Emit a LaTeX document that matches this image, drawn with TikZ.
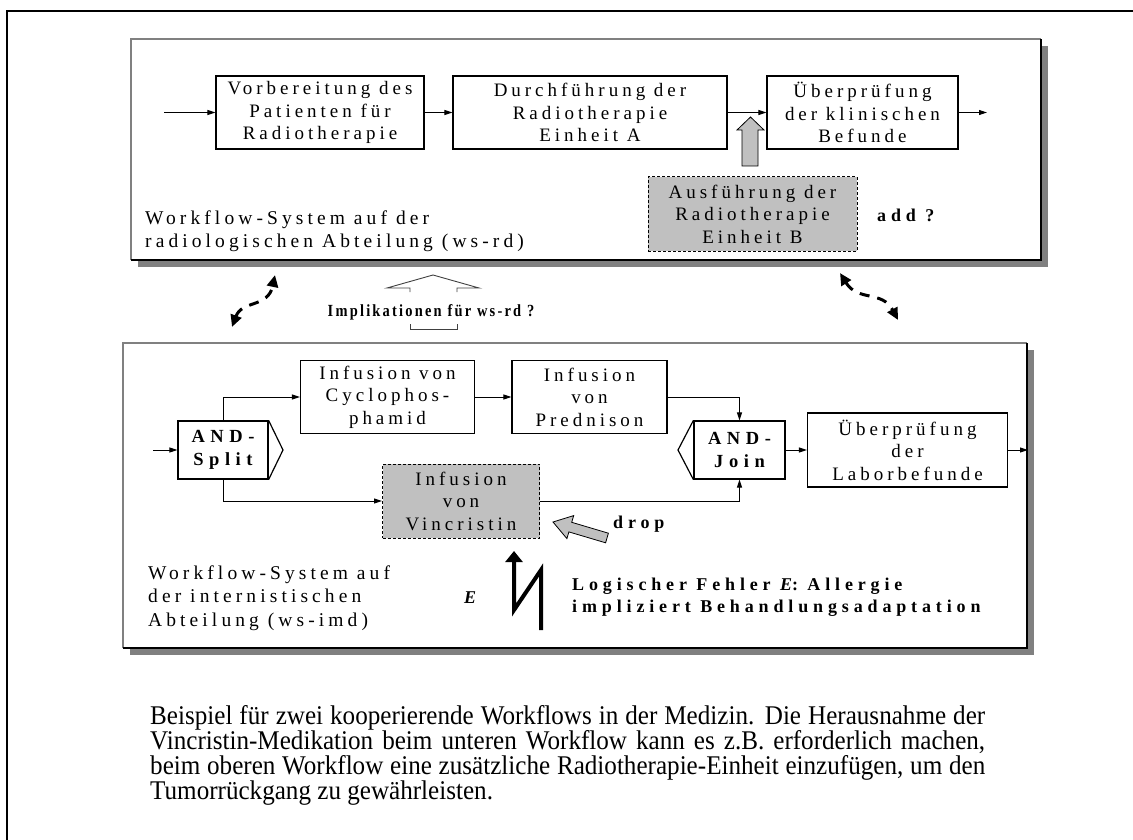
\documentclass[tikz,border=0pt]{standalone}
\usepackage{fontspec}
\setmainfont{Liberation Serif}
\newfontfamily\lsf{Liberation Serif}[LetterSpace=21]
\newfontfamily\lsfb{Liberation Serif}[LetterSpace=27]
\newfontfamily\lsfg{Liberation Serif}[LetterSpace=30]
\newfontfamily\lsfn{Liberation Serif}[LetterSpace=13, FakeStretch=0.85]
\newfontfamily\capfont{Liberation Serif}[FakeStretch=0.93]
\newcommand\capline[1]{\makebox[835pt][s]{#1}}
\usetikzlibrary{arrows.meta}
\definecolor{boxgray}{HTML}{C0C0C0}
\definecolor{shadowgray}{HTML}{808080}
\tikzset{
  box/.style={draw, line width=1.2pt, fill=white, align=center, inner sep=0pt,
    font=\lsf\fontsize{19}{22.5}\selectfont},
  gbox/.style={box, fill=boxgray, dash pattern=on 3pt off 2pt, line width=1pt},
  gatebox/.style={box, font=\lsfg\bfseries\fontsize{18.5}{23}\selectfont},
  flow/.style={line width=1pt, -{Triangle[length=8pt,width=5pt]}},
  lbl/.style={align=left, inner sep=0pt, font=\lsf\fontsize{19.5}{23.5}\selectfont},
  blbl/.style={align=left, inner sep=0pt, font=\lsfb\bfseries\fontsize{18}{21.5}\selectfont},
  fatarrow/.style={fill=boxgray, draw=black, line width=0.8pt},
  dasharrow/.style={line width=3pt, dash pattern=on 10pt off 8pt,
    {Triangle[length=12pt,width=11pt]}-{Triangle[length=12pt,width=11pt]}},
}
\begin{document}
\begin{tikzpicture}[x=1pt,y=-1pt]
\useasboundingbox (0,0) rectangle (1133,840);
% outer frame
\draw[line width=2pt] (7,840) -- (7,11) -- (1133,11);

% ---------- top panel ----------
\fill[shadowgray] (138,46) rectangle (1048,267);
\fill[white] (131,39) rectangle (1041,260);
\draw[line width=1.2pt, gray] (131,260) -- (131,39) -- (1041,39);
\draw[line width=1.2pt] (131,260) -- (1041,260) -- (1041,39);

\node[box, minimum width=208pt, minimum height=73pt] (b1) at (320,112.5)
  {Vorbereitung des\\Patienten für\\Radiotherapie};
\node[box, minimum width=274pt, minimum height=73pt] (b2) at (590,112.5)
  {Durchführung der\\Radiotherapie\\Einheit A};
\node[box, minimum width=191pt, minimum height=73pt] (b3) at (862.5,112.5)
  {Überprüfung\\der klinischen\\Befunde};
\node[gbox, minimum width=209pt, minimum height=74pt] (gb) at (752.5,214)
  {Ausführung der\\Radiotherapie\\Einheit B};
\coordinate (in1) at (164,112.5);
\coordinate (out1) at (987,112.5);
\draw[flow] (in1) -- (b1.west);
\draw[flow] (b1.east) -- (b2.west);
\draw[flow] (b2.east) -- (b3.west);
\draw[flow] (b3.east) -- (out1);
% fat up arrow
\draw[fatarrow] (742,166) -- (742,130) -- (737,130) -- (750.5,117) -- (764,130) -- (758,130) -- (758,166) -- cycle;
\node[blbl, anchor=west] (add) at (877,215) {add ?};
\node[lbl, anchor=west] (toplbl) at (145,231)
  {Workflow-System auf der\\radiologischen Abteilung (ws-rd)};

% ---------- middle ----------
\draw[line width=0.9pt, black!75] (410,292) -- (410,288) -- (387,288) -- (433,275) -- (479,288) -- (457,288) -- (457,292);
\draw[line width=0.9pt, black!75] (410,324) -- (410,329) -- (457,329) -- (457,324);
\node[inner sep=0pt, font=\lsfn\bfseries\fontsize{17}{21}\selectfont] (impl) at (431,312) {Implikationen für ws-rd ?};
\draw[dasharrow] (232,327) .. controls (242,300) and (268,308) .. (275,275);
\draw[dasharrow] (840,273) .. controls (858,302) and (882,290) .. (898,320);

% ---------- bottom panel ----------
\fill[shadowgray] (130,350) rectangle (1034,655);
\fill[white] (123,343) rectangle (1027,648);
\draw[line width=1.2pt, gray] (123,648) -- (123,343) -- (1027,343);
\draw[line width=1.2pt] (123,648) -- (1027,648) -- (1027,343);

\node[gatebox, minimum width=90pt, minimum height=58pt] (split) at (223,450) {AND-\\Split};
\draw[line width=1.2pt] (split.north east) -- (283,450) -- (split.south east);
\node[gatebox, minimum width=91pt, minimum height=58pt] (join) at (739.5,450) {AND-\\Join};
\draw[line width=1.2pt] (join.north west) -- (678,450) -- (join.south west);
\node[box, minimum width=174pt, minimum height=73pt] (cyc) at (387.5,397)
  {Infusion von\\Cyclophos-\\phamid};
\node[box, minimum width=155pt, minimum height=73pt] (pred) at (589.5,397)
  {Infusion\\von\\Prednison};
\node[gbox, minimum width=157pt, minimum height=74pt] (vin) at (461,501)
  {Infusion\\von\\Vincristin};
\node[box, minimum width=200pt, minimum height=74pt] (lab) at (907.5,450)
  {Überprüfung\\der\\Laborbefunde};
\coordinate (in2) at (153,450);
\coordinate (out2) at (1028,450);
\draw[flow] (in2) -- (split.west);
\draw[flow] (split.north) |- (cyc.west);
\draw[flow] (split.south) |- (vin.west);
\draw[flow] (cyc.east) -- (pred.west);
\draw[flow] (pred.east) -| (join.north);
\draw[flow] (vin.east) -| (join.south);
\draw[flow] (join.east) -- (lab.west);
\draw[flow] (lab.east) -- (out2);

% drop arrow
\draw[fatarrow] (553,522) -- (573.7,515.6) -- (571.7,522.3) -- (608.4,533.2) -- (605.6,542.8) -- (568.9,531.9) -- (566.9,538.6) -- cycle;
\node[blbl, anchor=west] (drop) at (613,524) {drop};

% error lightning
\draw[line width=4pt, -{Triangle[length=11pt,width=17pt]}] (541,630) -- (541,570) -- (514,610) -- (514,551);
\node[font=\bfseries\itshape\fontsize{18}{22}\selectfont, inner sep=0pt] (E) at (470,598) {E};
\node[blbl, anchor=west] (err) at (572,597)
  {Logischer Fehler {\itshape E}: Allergie\\impliziert Behandlungsadaptation};
\node[lbl, anchor=west] (botlbl) at (148,598)
  {Workflow-System auf\\der internistischen\\Abteilung (ws-imd)};

% ---------- caption ----------
\node[anchor=north west, inner sep=0pt, align=left,
  font=\capfont\fontsize{27}{25}\selectfont] (cap) at (150,705)
  {\capline{Beispiel für zwei kooperierende Workflows in der Medizin. Die Herausnahme der}\\
   \capline{Vincristin-Medikation beim unteren Workflow kann es z.B. erforderlich machen,}\\
   \capline{beim oberen Workflow eine zusätzliche Radiotherapie-Einheit einzufügen, um den}\\
   Tumorrückgang zu gewährleisten.};
\end{tikzpicture}
\end{document}
